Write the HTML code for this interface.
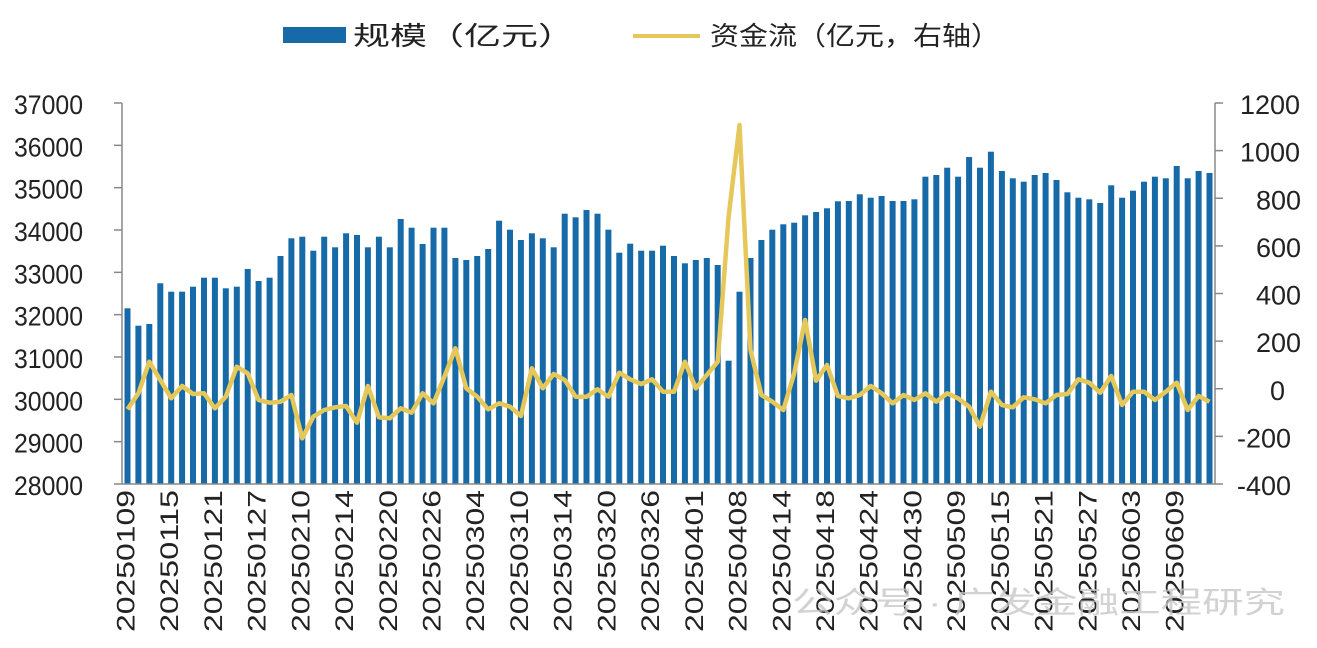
<!DOCTYPE html>
<html><head><meta charset="utf-8"><style>
html,body{margin:0;padding:0;background:#fff;}
svg{display:block;font-family:"Liberation Sans","Noto Sans CJK SC",sans-serif;}
</style></head><body>
<svg id="c" width="1317" height="648" xmlns="http://www.w3.org/2000/svg">
<rect x="283" y="27" width="63" height="16" fill="#176aa8"/>
<text x="353" y="45" font-size="26" fill="#222" textLength="222" lengthAdjust="spacingAndGlyphs">规模（亿元）</text>
<line x1="633" y1="36" x2="700" y2="36" stroke="#e6c85a" stroke-width="4"/>
<text x="710" y="45" font-size="26" fill="#222" textLength="290" lengthAdjust="spacingAndGlyphs">资金流（亿元，右轴）</text>
<g id="g"></g>
<text x="792" y="613" font-size="30" fill="#c8c8c8" opacity="0.8" textLength="493" lengthAdjust="spacingAndGlyphs">公众号 · 广发金融工程研究</text>
</svg>
<script>
var A=[655,707,702,580,605,605,590,563,563,595,590,537,573,563,498,445,440,482,440,472,430,435,472,440,472,387,413,462,413,413,504,510,498,
477,392,419,450,430,445,472,371,382,360,371,419,488,461,482,482,467,498,520,510,504,525,812,605,504,450,419,403,398,376,366,355,334,
333,313,323,318,333,333,328,260,255,233,260,201,233,185,243,265,275,255,249,270,307,323,328,339,286,323,302,275,260,265,228,265,243,249];
var L=[958,910,815,870,925,888,912,910,955,920,830,850,930,938,935,915,1045,980,960,952,948,998,888,982,985,955,968,910,940,860,775,895,920,
958,940,950,978,835,895,852,870,920,920,898,920,848,868,882,868,905,905,815,895,855,815,380,105,780,915,935,960,850,690,872,825,918,
925,915,888,910,940,915,930,910,935,910,925,950,1010,905,945,952,922,928,940,915,912,868,878,908,858,945,905,905,930,905,878,960,918,935];
var d=["20250109","20250115","20250121","20250127","20250210","20250214","20250220","20250226","20250304","20250310","20250314","20250320","20250326","20250401","20250408","20250414","20250418","20250424","20250430","20250509","20250515","20250521","20250527","20250603","20250609"];
var s='';var n=100,x0=122,x1=1215,w=(x1-x0)/n;
for(var i=0;i<n;i++){var cx=x0+w*(i+0.5),t=90+A[i]/3;s+='<rect x="'+(cx-3).toFixed(1)+'" y="'+t.toFixed(1)+'" width="6" height="'+(484-t).toFixed(1)+'" fill="#176aa8"/>';}
var p=[];for(var i=0;i<n;i++){p.push((x0+w*(i+0.5)).toFixed(1)+','+(90+L[i]/3).toFixed(1));}
s+='<polyline points="'+p.join(' ')+'" fill="none" stroke="#e6c85a" stroke-width="4.5" stroke-linejoin="round"/>';
s+='<line x1="122" y1="103" x2="122" y2="484" stroke="#888" stroke-width="1.5"/>';
s+='<line x1="1215" y1="103" x2="1215" y2="484" stroke="#888" stroke-width="1.5"/>';
s+='<line x1="122" y1="484" x2="1215" y2="484" stroke="#888" stroke-width="1.5"/>';
for(var k=0;k<=9;k++){var y=484-k*381/9;s+='<line x1="114" y1="'+y+'" x2="122" y2="'+y+'" stroke="#888" stroke-width="1.5"/>';
s+='<text x="14" y="'+(y+11)+'" font-size="27" textLength="69" lengthAdjust="spacingAndGlyphs" fill="#222">'+(28000+k*1000)+'</text>';}
for(var k=0;k<=8;k++){var y=484-k*381/8;s+='<line x1="1215" y1="'+y+'" x2="1223" y2="'+y+'" stroke="#888" stroke-width="1.5"/>';
var v=-400+k*200;s+='<text x="'+(v<0?1237:(v==0?1270:(v<1000?1256:1240)))+'" y="'+(y+11)+'" font-size="27" fill="#222">'+v+'</text>';}
for(var j=0;j<25;j++){var cx=x0+w*(j*4+0.5)+7;s+='<text transform="translate('+cx.toFixed(1)+',632) rotate(-90)" x="0" y="0" font-size="25" textLength="142" lengthAdjust="spacingAndGlyphs" fill="#222">'+d[j]+'</text>';}
document.getElementById('g').innerHTML=s;
</script>
</body></html>
